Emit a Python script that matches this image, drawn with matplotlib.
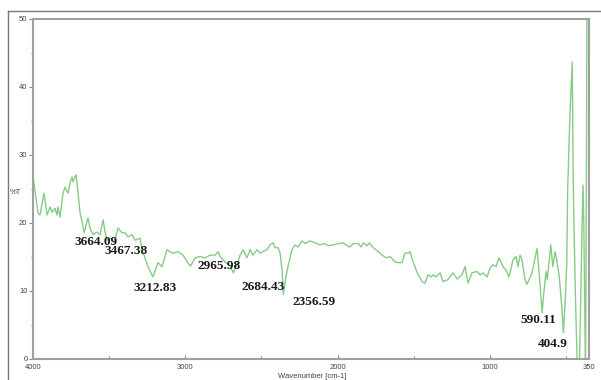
import matplotlib
matplotlib.use("Agg")
import matplotlib.pyplot as plt
from matplotlib.lines import Line2D
from matplotlib.ticker import MultipleLocator, FixedLocator

# FT-IR transmittance spectrum (wavenumber in cm-1, transmittance in %T)
wavenumber = [
    4000, 3967, 3954, 3928, 3908, 3888, 3875, 3856, 3842, 3836, 3823, 3803, 3790,
    3770, 3757, 3744, 3737, 3718, 3711, 3691, 3678, 3664, 3639, 3626, 3606, 3580,
    3560, 3540, 3527, 3514, 3488, 3467, 3442, 3416, 3396, 3376, 3350, 3330, 3297,
    3284, 3245, 3213, 3179, 3153, 3120, 3101, 3081, 3048, 3015, 2982, 2966, 2936,
    2904, 2871, 2838, 2805, 2785, 2772, 2740, 2707, 2684, 2654, 2641, 2621, 2595,
    2575, 2556, 2529, 2510, 2464, 2444, 2424, 2411, 2392, 2378, 2365, 2357, 2340,
    2326, 2300, 2280, 2260, 2234, 2214, 2182, 2149, 2116, 2083, 2063, 2030, 1998,
    1965, 1938, 1919, 1899, 1866, 1846, 1832, 1806, 1792, 1766, 1733, 1702, 1676,
    1656, 1623, 1603, 1577, 1558, 1538, 1525, 1505, 1492, 1479, 1459, 1446, 1426,
    1407, 1387, 1374, 1354, 1328, 1308, 1276, 1243, 1216, 1184, 1164, 1144, 1118,
    1085, 1065, 1046, 1019, 1000, 980, 960, 941, 914, 895, 875, 849, 829, 816, 803,
    790, 770, 757, 724, 691, 675, 658, 645, 632, 624, 601, 588, 573, 562, 545, 530,
    518, 505, 496, 490, 475, 460, 453, 440, 425, 415, 405, 395, 389, 384, 378, 373,
    368, 363, 350,
]
transmittance = [
    26.8, 21.4, 21.1, 24.3, 21.1, 22.3, 21.5, 22.1, 21.1, 22.3, 20.8, 24.3, 25.2,
    24.3, 25.8, 26.7, 26.0, 27.0, 25.8, 21.4, 20.1, 18.5, 20.7, 19.2, 18.2, 18.6,
    18.2, 20.4, 18.6, 17.4, 17.7, 17.0, 19.2, 18.5, 18.5, 17.9, 18.2, 17.4, 17.7,
    16.0, 13.5, 12.0, 14.1, 13.5, 16.0, 15.7, 15.5, 15.7, 15.2, 14.0, 13.6, 14.8,
    15.0, 14.8, 15.2, 15.2, 15.7, 15.0, 14.2, 13.6, 12.6, 14.2, 15.2, 16.0, 14.8,
    16.0, 15.2, 16.0, 15.5, 16.0, 16.7, 17.0, 16.3, 16.3, 15.5, 13.0, 9.4, 12.0,
    13.5, 16.0, 16.7, 16.4, 17.3, 16.9, 17.3, 17.0, 16.7, 16.9, 16.6, 16.7, 16.9,
    17.0, 16.6, 16.4, 16.9, 16.9, 16.4, 17.0, 16.6, 17.0, 16.3, 15.7, 15.1, 14.8,
    15.0, 14.2, 14.1, 14.1, 15.5, 15.5, 15.7, 14.2, 13.5, 12.6, 11.9, 11.3, 11.1,
    12.3, 12.0, 12.3, 12.0, 12.6, 11.3, 11.6, 12.6, 11.7, 12.3, 13.5, 11.1, 12.6,
    12.8, 12.3, 12.6, 12.0, 13.3, 13.8, 13.5, 14.8, 13.5, 13.0, 12.0, 14.5, 15.0,
    13.5, 15.2, 14.5, 11.6, 10.9, 12.6, 16.2, 12.0, 6.7, 10.0, 12.8, 11.6, 16.7,
    13.5, 15.7, 14.5, 12.0, 8.0, 3.8, 9.0, 14.1, 24.8, 36.0, 43.6, 24.8, 10.0,
    -3.0, -3.0, 8.0, 20.0, 25.5, 20.0, 8.0, -3.0, 20.0, 56.0, 56.0,
]

# Assigned band positions and where their labels sit (wavenumber, %T)
peak_labels = ["3664.09", "3467.38", "3212.83", "2965.98", "2684.43",
               "2356.59", "590.11", "404.9"]
label_pos = [(3585, 17.2), (3387, 15.8), (3200, 10.4), (2778, 13.6),
             (2491, 10.5), (2153, 8.3), (680, 5.6), (585, 2.2)]

W, H = 601, 380
fig = plt.figure(figsize=(W / 100, H / 100), dpi=100)
fig.patch.set_facecolor("white")

# thin outer frame of the exported panel
fig.add_artist(Line2D([8 / W, 1.0], [1 - 10.5 / H] * 2, color="#7a7a7a", lw=1.0))
fig.add_artist(Line2D([8.3 / W] * 2, [0.0, 1 - 10.5 / H], color="#7a7a7a", lw=1.0))

ax = fig.add_axes([33 / W, 1 - 358.5 / H, (589 - 33) / W, (358.5 - 18.5) / H])
ax.plot(wavenumber, transmittance, color="#86cc86", lw=1.0, solid_joinstyle="round")

ax.set_xlim(4000, 350)
ax.set_ylim(0, 50)

ax.xaxis.set_major_locator(FixedLocator([4000, 3000, 2000, 1000, 350]))
ax.xaxis.set_minor_locator(FixedLocator([3500, 2500, 1500, 500]))
ax.yaxis.set_major_locator(MultipleLocator(10))
ax.yaxis.set_minor_locator(MultipleLocator(5))

for side in ["left", "right", "top", "bottom"]:
    ax.spines[side].set_color("#a0a0a0")
    ax.spines[side].set_linewidth(1.5)

ax.tick_params(axis="x", which="both", direction="in", colors="#888888",
               labelcolor="#444444", labelsize=5.5, pad=4)
ax.tick_params(axis="x", which="major", length=3, width=0.8)
ax.tick_params(axis="x", which="minor", length=2, width=0.8)
ax.tick_params(axis="y", which="both", direction="out", colors="#888888",
               labelcolor="#444444", labelsize=5.5, pad=1)
ax.tick_params(axis="y", which="major", length=3, width=0.8)
ax.tick_params(axis="y", which="minor", length=1.5, width=0.8)
for lab in ax.get_xticklabels() + ax.get_yticklabels():
    lab.set_fontfamily("Liberation Sans")

fig.text(9.5 / W, 1 - 193 / H, "%T", fontsize=5.5, color="#444444",
         family="Liberation Sans", ha="left", va="center")
fig.text(312 / W, 1 - 377 / H, "Wavenumber [cm-1]", fontsize=5.5,
         color="#444444", family="Liberation Sans", ha="center", va="center")

for text, (xw, yt) in zip(peak_labels, label_pos):
    ax.text(xw, yt, text, fontsize=9.5, fontweight="bold", color="#1a1a1a",
            family="Liberation Serif", ha="center", va="center", clip_on=False)

fig.savefig("out.png", dpi=100)
